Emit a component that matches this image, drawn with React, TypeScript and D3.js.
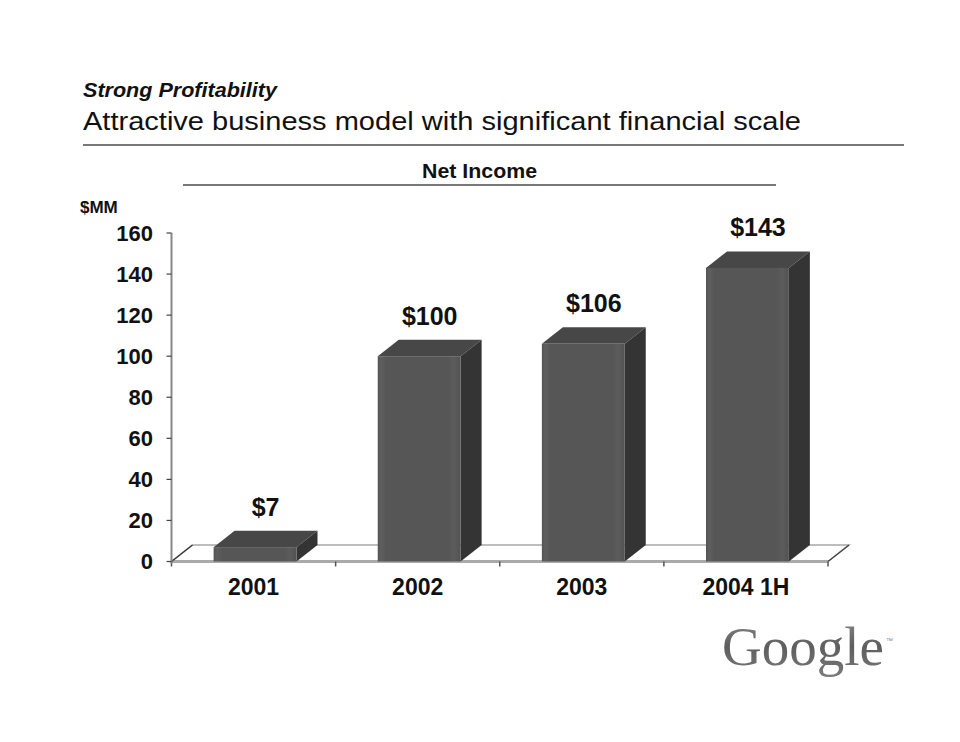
import React from "react";
import * as d3 from "d3";

const categories = ["2001", "2002", "2003", "2004 1H"];
const netIncome = [7, 100, 106, 143];
const valueLabels = ["$7", "$100", "$106", "$143"];
const yTicks = [0, 20, 40, 60, 80, 100, 120, 140, 160];

const W = 960;
const H = 742;
const FONT = "'Liberation Sans', Arial, Helvetica, sans-serif";

export default function App() {
  const x = d3.scaleBand<string>().domain(categories).range([171.5, 828]).paddingInner(0).paddingOuter(0);
  const y = d3.scaleLinear().domain([0, 160]).range([561.5, 233]);
  const dx = 21;
  const dy = -16.5;
  const bw = x.bandwidth() * 0.505;
  const x0 = x.range()[0];
  const x1 = x.range()[1];
  const y0 = y(0);
  const boundaries = [x0, ...categories.map((c) => (x(c) as number) + x.bandwidth())];

  return (
    <svg width={W} height={H} style={{ position: "absolute", left: 0, top: 0, background: "#fff" }}>
      <defs>
        <linearGradient id="front" x1="0" x2="1" y1="0" y2="0">
          <stop offset="0" stopColor="#545454" />
          <stop offset="0.04" stopColor="#5f5f5f" />
          <stop offset="0.1" stopColor="#565656" />
          <stop offset="0.85" stopColor="#565656" />
          <stop offset="0.92" stopColor="#5c5c5c" />
          <stop offset="1" stopColor="#525252" />
        </linearGradient>
        <linearGradient id="glogo" x1="0" x2="0" y1="0" y2="1">
          <stop offset="0" stopColor="#8a8a8a" />
          <stop offset="0.5" stopColor="#5e5e5e" />
          <stop offset="1" stopColor="#7a7a7a" />
        </linearGradient>
      </defs>
      <rect x={0} y={0} width={W} height={H} fill="#fff" />

      {/* Titles */}
      <text
        x={83}
        y={97}
        fontFamily={FONT}
        fontSize={20}
        fontWeight="bold"
        fontStyle="italic"
        fill="#111"
        textLength={194}
        lengthAdjust="spacingAndGlyphs"
      >
        Strong Profitability
      </text>
      <text
        x={83}
        y={130}
        fontFamily={FONT}
        fontSize={26}
        fill="#111"
        textLength={718}
        lengthAdjust="spacingAndGlyphs"
      >
        Attractive business model with significant financial scale
      </text>
      <line x1={83} x2={904} y1={145} y2={145} stroke="#777" strokeWidth={2} />

      {/* Section header */}
      <text
        x={422}
        y={178}
        fontFamily={FONT}
        fontSize={20}
        fontWeight="bold"
        fill="#111"
        textLength={115}
        lengthAdjust="spacingAndGlyphs"
      >
        Net Income
      </text>
      <line x1={183} x2={776} y1={185} y2={185} stroke="#777" strokeWidth={2} />

      {/* Unit label */}
      <text x={80} y={213} fontFamily={FONT} fontSize={17} fontWeight="bold" fill="#111">
        $MM
      </text>

      {/* Floor */}
      <polygon
        points={`${x0},${y0} ${x1},${y0} ${x1 + dx},${y0 + dy} ${x0 + dx},${y0 + dy}`}
        fill="#fff"
        stroke="#a8a8a8"
        strokeWidth={1.5}
      />
      <line x1={x0} x2={x1} y1={y0} y2={y0} stroke="#aaa" strokeWidth={3} />
      <line x1={x0} x2={x0 + dx} y1={y0} y2={y0 + dy} stroke="#333" strokeWidth={1.2} />
      <line x1={x1} x2={x1 + dx} y1={y0} y2={y0 + dy} stroke="#444" strokeWidth={1.2} />

      {/* X ticks */}
      {boundaries.map((b, i) => (
        <line key={i} x1={b} x2={b} y1={y0} y2={y0 + 5} stroke="#555" strokeWidth={1.5} />
      ))}

      {/* Y axis */}
      <line x1={x0} x2={x0} y1={y(160)} y2={y0 + 2} stroke="#888" strokeWidth={2} />
      {yTicks.map((t) => (
        <g key={t}>
          <line x1={x0 - 5} x2={x0} y1={y(t)} y2={y(t)} stroke="#444" strokeWidth={1.2} />
          <text
            x={153}
            y={y(t)}
            dy="0.36em"
            textAnchor="end"
            fontFamily={FONT}
            fontSize={22}
            fontWeight="bold"
            fill="#111"
          >
            {t}
          </text>
        </g>
      ))}

      {/* Bars */}
      {categories.map((c, i) => {
        const v = netIncome[i];
        const cx = (x(c) as number) + x.bandwidth() / 2 + 1.5;
        const l = cx - bw / 2;
        const r = cx + bw / 2;
        const top = y(v);
        return (
          <g key={c}>
            <polygon
              points={`${l},${top} ${r},${top} ${r + dx},${top + dy} ${l + dx},${top + dy}`}
              fill="#474747"
            />
            <polygon
              points={`${r},${top} ${r + dx},${top + dy} ${r + dx},${y0 + dy} ${r},${y0}`}
              fill="#343434"
            />
            <rect x={l} y={top} width={bw} height={y0 - top} fill="url(#front)" />
            <text
              x={cx + dx / 2}
              y={top + dy - 15}
              textAnchor="middle"
              fontFamily={FONT}
              fontSize={25}
              fontWeight="bold"
              fill="#111"
            >
              {valueLabels[i]}
            </text>
            <text
              x={(x(c) as number) + x.bandwidth() / 2}
              y={595}
              textAnchor="middle"
              fontFamily={FONT}
              fontSize={23}
              fontWeight="bold"
              fill="#111"
            >
              {c}
            </text>
          </g>
        );
      })}

      {/* Logo */}
      <text x={722} y={665} fontFamily="'Liberation Serif', 'DejaVu Serif', serif" fontSize={55} fill="url(#glogo)">
        Google
      </text>
      <text x={886} y={643} fontFamily={FONT} fontSize={7} fill="#888">
        ™
      </text>
    </svg>
  );
}
